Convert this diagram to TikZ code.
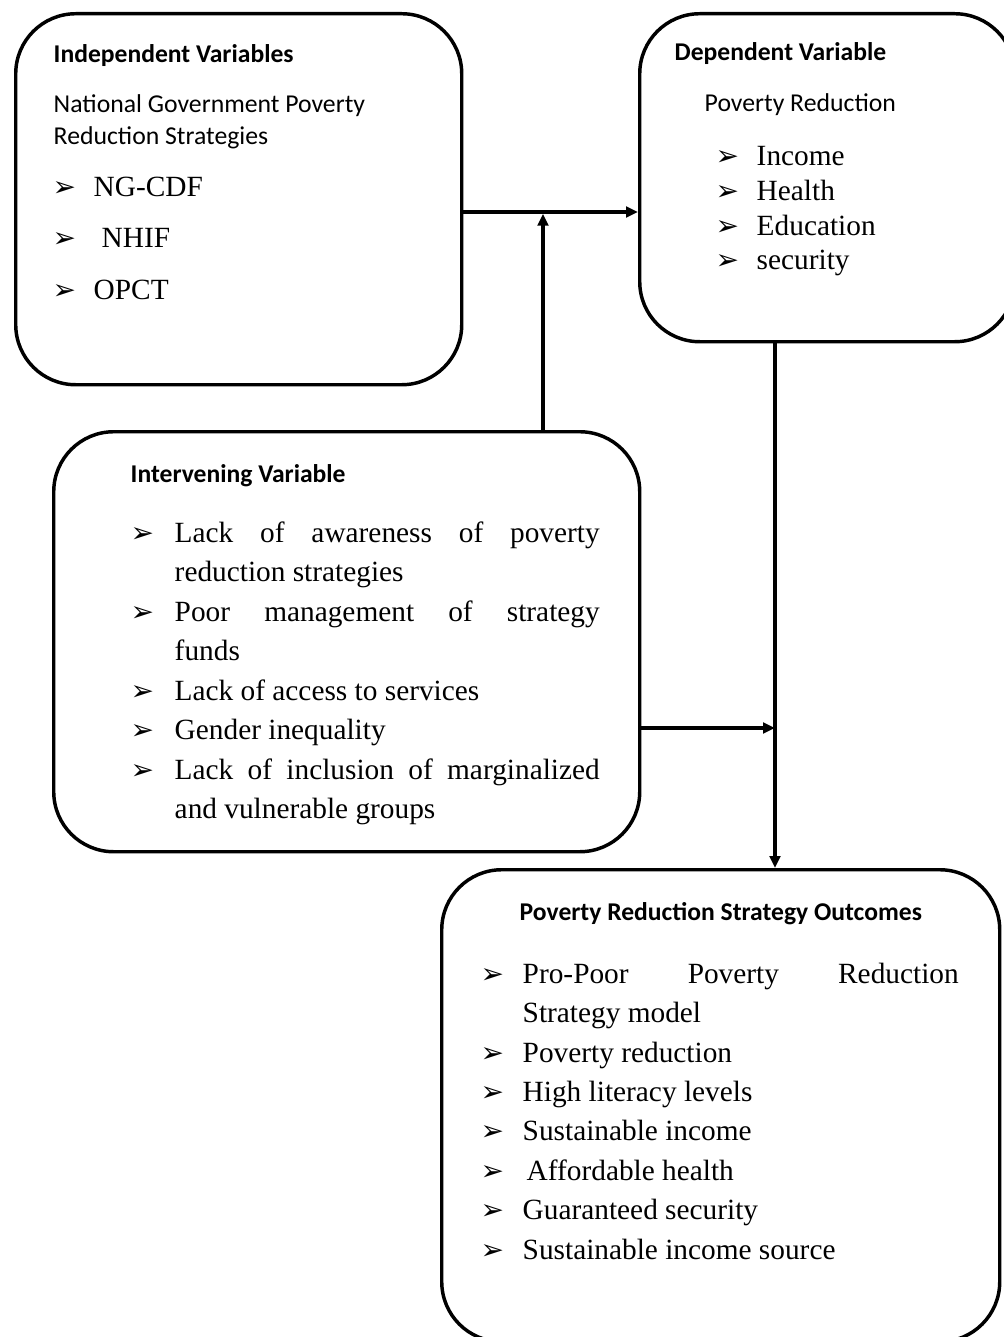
\documentclass[tikz,border=0pt]{standalone}
\usepackage{fontspec}
\setmainfont{Liberation Serif}
\newfontfamily\headfont{Carlito}
\newfontfamily\symfont{DejaVu Sans}
\usetikzlibrary{positioning,arrows.meta,calc}
\newcommand{\arw}{{\symfont\fontsize{21}{21}\selectfont\char"27A2}}
\newcommand{\itm}[2][30pt]{\noindent\hangindent=#1\hangafter=1\makebox[#1][l]{\hspace{-3pt}\arw}#2\par}
\tikzset{
  varbox/.style={draw,rounded corners=45pt,inner sep=0pt,anchor=north west},
  head/.style={font=\headfont\bfseries\fontsize{19.2}{23}\selectfont,anchor=base west,inner sep=0pt},
  sub/.style={font=\headfont\fontsize{19.3}{24}\selectfont,anchor=north west,inner sep=0pt,align=left},
  items/.style={font=\fontsize{22}{29.6}\selectfont,anchor=north west,inner sep=0pt,align=justify},
  >={Triangle[length=9pt,width=8pt]},
}

\begin{document}
\begin{tikzpicture}[
x=0.75pt,y=-0.75pt,
line width=2.6pt
]
\useasboundingbox (0,0) rectangle (1003,1337);

\node[varbox,minimum width=334.5pt,minimum height=278.25pt] (indep) at (14,12) {};
\node[varbox,minimum width=281.25pt,minimum height=246pt] (dep) at (638,12) {};
\node[varbox,minimum width=439.5pt,minimum height=315pt] (interv) at (52,430) {};
\node[varbox,minimum width=418.5pt,minimum height=354pt] (outcome) at (440,868) {};

\node[head] (indephd) at (52,63) {Independent Variables};
\node[sub] (indepsub) at (52,93) {National Government Poverty\\Reduction Strategies};
\node[items,text width=300pt,font=\fontsize{22}{38.6}\selectfont] (indeplist) at (55,175) {%
\itm[27.75pt]{NG-CDF}
\itm[27.75pt]{\hspace{6pt}NHIF}
\itm[27.75pt]{OPCT}};

\node[head] (dephd) at (673,61) {Dependent Variable};
\node[sub] (depsub) at (703,92) {Poverty Reduction};
\node[items,text width=200pt,font=\fontsize{22}{26}\selectfont] (deplist) at (718,145) {%
\itm[27.75pt]{Income}
\itm[27.75pt]{Health}
\itm[27.75pt]{Education}
\itm[27.75pt]{security}};

\node[head] (intervhd) at (129,482) {Intervening Variable};
\node[items,text width=348.75pt] (intervlist) at (133,520) {%
\itm{Lack of awareness of poverty\linebreak reduction strategies}
\itm{Poor management of strategy\linebreak funds}
\itm{Lack of access to services}
\itm{Gender inequality}
\itm{Lack of inclusion of marginalized\linebreak and vulnerable groups}};

\node[head] (outcomehd) at (518,920) {Poverty Reduction Strategy Outcomes};
\node[items,text width=355.5pt] (outcomelist) at (483,961) {%
\itm[28.5pt]{Pro-Poor Poverty Reduction\linebreak Strategy model}
\itm[28.5pt]{Poverty reduction}
\itm[28.5pt]{High literacy levels}
\itm[28.5pt]{Sustainable income}
\itm[28.5pt]{\hspace{3pt}Affordable health}
\itm[28.5pt]{Guaranteed security}
\itm[28.5pt]{Sustainable income source}};

\coordinate (jn) at (543,212);
\coordinate (kn) at (775,728);
\draw[->] (indep.east |- jn) -- (dep.west |- jn);
\draw[->,shorten >=1.3pt] (interv.north -| jn) -- (jn);
\draw[->] (dep.south -| kn) -- (outcome.north -| kn);
\draw[->] (interv.east |- kn) -- (kn);
\end{tikzpicture}
\end{document}
